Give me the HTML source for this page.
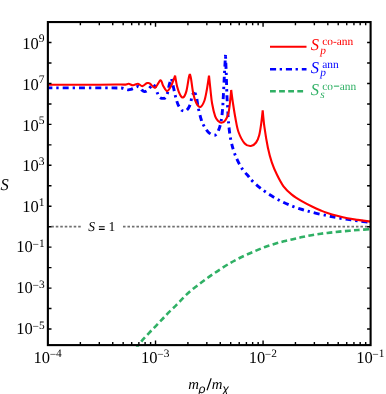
<!DOCTYPE html>
<html><head><meta charset="utf-8"><title>plot</title>
<style>html,body{margin:0;padding:0;background:#fff;}svg{display:block;will-change:transform;}text{font-family:"Liberation Serif",serif;text-rendering:geometricPrecision;}</style></head><body>
<svg width="386" height="394" viewBox="0 0 386 394">
<rect width="386" height="394" fill="#fff"/>
<defs><clipPath id="cp"><rect x="48.00" y="22.10" width="322.60" height="324.60"/></clipPath></defs>
<line x1="51.3" y1="226.60" x2="370.60" y2="226.60" stroke="#707070" stroke-width="1.7" stroke-dasharray="2.55 1.93" fill="none"/>
<rect x="81.6" y="220" width="40.9" height="14" fill="#fff"/>
<path d="M98.9 226.75h5.8M98.9 229.35h5.8" stroke="#000" stroke-width="1.15" fill="none"/>
<text y="231.3" font-size="13.5" fill="#000"><tspan x="88.3" font-style="italic">S</tspan><tspan x="108.6">1</tspan></text>
<g clip-path="url(#cp)" fill="none" stroke-linejoin="miter" stroke-miterlimit="3">
<path d="M136.60 347.20C136.92 346.85 137.47 346.35 138.50 345.10C139.53 343.85 141.02 341.75 142.80 339.70C144.58 337.65 147.00 335.12 149.20 332.80C151.40 330.48 153.78 328.10 156.00 325.80C158.22 323.50 160.28 321.33 162.50 319.00C164.72 316.67 166.97 314.15 169.30 311.80C171.63 309.45 174.18 307.22 176.50 304.90C178.82 302.58 180.92 300.18 183.20 297.90C185.48 295.62 187.80 293.28 190.20 291.20C192.60 289.12 195.08 287.35 197.60 285.40C200.12 283.45 202.72 281.40 205.30 279.50C207.88 277.60 210.43 275.82 213.10 274.00C215.77 272.18 218.45 270.43 221.30 268.60C224.15 266.77 227.45 264.62 230.20 263.00C232.95 261.38 235.03 260.30 237.80 258.90C240.57 257.50 243.75 255.98 246.80 254.60C249.85 253.22 253.07 251.87 256.10 250.60C259.13 249.33 261.97 248.10 265.00 247.00C268.03 245.90 271.18 244.95 274.30 244.00C277.42 243.05 280.58 242.10 283.70 241.30C286.82 240.50 289.92 239.92 293.00 239.20C296.08 238.48 299.12 237.67 302.20 237.00C305.28 236.33 308.38 235.75 311.50 235.20C314.62 234.65 317.78 234.13 320.90 233.70C324.02 233.27 327.10 232.95 330.20 232.60C333.30 232.25 336.28 231.92 339.50 231.60C342.72 231.28 346.38 230.97 349.50 230.70C352.62 230.43 354.68 230.27 358.20 230.00C361.72 229.73 368.53 229.25 370.60 229.10" stroke="#30b065" stroke-width="2.6" stroke-dasharray="5.8 3.4" stroke-dashoffset="1.87"/>
<path d="M48.00 87.90C58.33 87.90 98.33 87.88 110.00 87.90C121.67 87.92 115.88 87.95 118.00 88.00C120.12 88.05 121.37 87.98 122.70 88.20C124.03 88.42 125.03 89.02 126.00 89.30C126.97 89.58 127.67 89.88 128.50 89.90C129.33 89.92 130.15 89.65 131.00 89.40C131.85 89.15 132.77 88.78 133.60 88.40C134.43 88.02 135.25 87.42 136.00 87.10C136.75 86.78 137.43 86.42 138.10 86.50C138.77 86.58 139.35 86.98 140.00 87.60C140.65 88.22 141.25 89.53 142.00 90.20C142.75 90.87 143.67 91.50 144.50 91.60C145.33 91.70 146.10 91.47 147.00 90.80C147.90 90.13 149.07 88.47 149.90 87.60C150.73 86.73 151.40 86.03 152.00 85.60C152.60 85.17 153.25 85.10 153.50 85.00" stroke="#0000ff" stroke-width="2.9" stroke-dasharray="5.9 4.0 2.3 4.0" stroke-dashoffset="1.40"/>
<path d="M153.50 85.00C153.75 85.22 154.33 84.92 155.00 86.30C155.67 87.68 156.78 91.55 157.50 93.30C158.22 95.05 158.72 96.00 159.30 96.80C159.88 97.60 160.38 97.83 161.00 98.10C161.62 98.37 162.33 98.42 163.00 98.40C163.67 98.38 164.40 98.47 165.00 98.00C165.60 97.53 166.13 96.62 166.60 95.60C167.07 94.58 167.32 93.83 167.80 91.90C168.28 89.97 168.88 86.23 169.50 84.00C170.12 81.77 171.17 79.42 171.50 78.50" stroke="#0000ff" stroke-width="2.9" stroke-dasharray="5.9 4.0 2.3 4.0" stroke-dashoffset="1.84"/>
<path d="M171.50 78.50C171.78 79.75 172.53 83.00 173.20 86.00C173.87 89.00 174.73 93.50 175.50 96.50C176.27 99.50 177.05 102.08 177.80 104.00C178.55 105.92 179.27 106.92 180.00 108.00C180.73 109.08 181.13 110.08 182.20 110.50C183.27 110.92 185.05 111.53 186.40 110.50C187.75 109.47 189.37 106.72 190.30 104.30C191.23 101.88 191.30 98.05 192.00 96.00C192.70 93.95 194.08 92.67 194.50 92.00" stroke="#0000ff" stroke-width="2.9" stroke-dasharray="5.9 4.0 2.3 4.0" stroke-dashoffset="9.19"/>
<path d="M194.50 92.00C194.83 92.83 195.90 94.48 196.50 97.00C197.10 99.52 197.32 103.35 198.10 107.10C198.88 110.85 200.17 116.27 201.20 119.50C202.23 122.73 203.00 124.28 204.30 126.50C205.60 128.72 207.18 131.37 209.00 132.80C210.82 134.23 213.52 135.75 215.20 135.10C216.88 134.45 218.07 131.50 219.10 128.90C220.13 126.30 220.82 122.87 221.40 119.50C221.98 116.13 222.27 112.83 222.60 108.70C222.93 104.57 223.10 100.32 223.40 94.70C223.70 89.08 224.05 81.65 224.40 75.00C224.75 68.35 225.32 58.17 225.50 54.80" stroke="#0000ff" stroke-width="2.9" stroke-dasharray="5.9 4.0 2.3 4.0" stroke-dashoffset="8.64"/>
<path d="M225.50 54.80C225.63 58.17 226.07 68.35 226.30 75.00C226.53 81.65 226.67 89.08 226.90 94.70C227.13 100.32 227.45 104.30 227.70 108.70C227.95 113.10 227.98 116.47 228.40 121.10C228.82 125.73 229.38 131.73 230.20 136.50C231.02 141.27 232.10 145.77 233.30 149.70C234.50 153.63 235.85 156.82 237.40 160.10C238.95 163.38 240.70 166.63 242.60 169.40C244.50 172.17 247.17 174.75 248.80 176.70C250.43 178.65 250.42 179.17 252.40 181.10C254.38 183.03 257.58 185.88 260.70 188.30C263.82 190.72 267.63 193.42 271.10 195.60C274.57 197.78 278.05 199.67 281.50 201.40C284.95 203.13 288.35 204.65 291.80 206.00C295.25 207.35 298.75 208.43 302.20 209.50C305.65 210.57 308.42 211.38 312.50 212.40C316.58 213.42 322.60 214.72 326.70 215.60C330.80 216.48 333.63 217.07 337.10 217.70C340.57 218.33 344.05 218.88 347.50 219.40C350.95 219.92 353.95 220.30 357.80 220.80C361.65 221.30 368.47 222.13 370.60 222.40" stroke="#0000ff" stroke-width="2.9" stroke-dasharray="5.9 4.0 2.3 4.0" stroke-dashoffset="8.14"/>
<path d="M48.00 84.70C56.67 84.70 87.85 84.73 100.00 84.70C112.15 84.67 116.65 84.52 120.90 84.50C125.15 84.48 124.20 84.72 125.50 84.60C126.80 84.48 127.45 83.70 128.70 83.80C129.95 83.90 131.45 85.20 133.00 85.20C134.55 85.20 136.45 83.65 138.00 83.80C139.55 83.95 140.88 86.18 142.30 86.10C143.72 86.02 145.53 83.82 146.50 83.30C147.47 82.78 147.52 82.95 148.10 83.00C148.68 83.05 148.83 82.82 150.00 83.60C151.17 84.38 153.35 88.27 155.10 87.70C156.85 87.13 159.17 80.53 160.50 80.20C161.83 79.87 162.02 83.88 163.10 85.70C164.18 87.52 165.70 90.98 167.00 91.10C168.30 91.22 169.82 88.25 170.90 86.40C171.98 84.55 172.80 81.80 173.50 80.00C174.20 78.20 174.83 76.33 175.10 75.60L175.10 75.60C175.43 77.40 176.25 83.17 177.10 86.40C177.95 89.63 179.17 93.18 180.20 95.00C181.23 96.82 182.27 97.95 183.30 97.30C184.33 96.65 185.48 94.38 186.40 91.10C187.32 87.82 188.22 80.45 188.80 77.60C189.38 74.75 189.72 74.60 189.90 74.00L189.90 74.00C190.10 74.85 190.52 75.73 191.10 79.10C191.68 82.47 192.50 90.13 193.40 94.20C194.30 98.27 195.33 101.37 196.50 103.50C197.67 105.63 199.10 107.42 200.40 107.00C201.70 106.58 203.25 103.75 204.30 101.00C205.35 98.25 205.92 94.73 206.70 90.50C207.48 86.27 208.62 78.08 209.00 75.60L209.00 75.60C209.25 78.00 209.98 85.35 210.50 90.00C211.02 94.65 211.32 99.10 212.10 103.50C212.88 107.90 214.17 113.47 215.20 116.40C216.23 119.33 217.27 120.05 218.30 121.10C219.33 122.15 220.23 122.83 221.40 122.70C222.57 122.57 224.13 121.87 225.30 120.30C226.47 118.73 227.62 116.28 228.40 113.30C229.18 110.32 229.53 106.28 230.00 102.40C230.47 98.52 231.00 92.07 231.20 90.00L231.20 90.00C231.52 92.33 232.40 99.33 233.10 104.00C233.80 108.67 234.50 113.33 235.40 118.00C236.30 122.67 236.95 127.75 238.50 132.00C240.05 136.25 242.63 141.17 244.70 143.50C246.77 145.83 249.00 146.17 250.90 146.00C252.80 145.83 254.72 144.30 256.10 142.50C257.48 140.70 258.33 138.48 259.20 135.20C260.07 131.92 260.72 126.93 261.30 122.80C261.88 118.67 262.47 112.47 262.70 110.40L262.70 110.40C262.98 113.15 263.53 120.68 264.40 126.90C265.27 133.12 266.67 141.80 267.90 147.70C269.13 153.60 270.28 157.78 271.80 162.30C273.32 166.82 275.05 170.80 277.00 174.80C278.95 178.80 281.03 183.00 283.50 186.30C285.97 189.60 288.68 192.08 291.80 194.60C294.92 197.12 298.75 199.37 302.20 201.40C305.65 203.43 309.38 205.28 312.50 206.80C315.62 208.32 318.53 209.52 320.90 210.50C323.27 211.48 324.00 211.82 326.70 212.70C329.40 213.58 333.63 214.87 337.10 215.80C340.57 216.73 344.05 217.62 347.50 218.30C350.95 218.98 353.95 219.35 357.80 219.90C361.65 220.45 368.47 221.32 370.60 221.60" stroke="#ff0000" stroke-width="2.1"/>
</g>
<rect x="47.88" y="22.05" width="322.72" height="323.05" fill="none" stroke="#000" stroke-width="2.1"/>
<path d="M80.37 345.10v-3.10M80.37 22.10v3.10M99.31 345.10v-3.10M99.31 22.10v3.10M112.74 345.10v-3.10M112.74 22.10v3.10M123.16 345.10v-3.10M123.16 22.10v3.10M131.68 345.10v-3.10M131.68 22.10v3.10M138.88 345.10v-3.10M138.88 22.10v3.10M145.11 345.10v-3.10M145.11 22.10v3.10M150.61 345.10v-3.10M150.61 22.10v3.10M155.53 345.10v-4.60M155.53 22.10v4.60M187.90 345.10v-3.10M187.90 22.10v3.10M206.84 345.10v-3.10M206.84 22.10v3.10M220.27 345.10v-3.10M220.27 22.10v3.10M230.70 345.10v-3.10M230.70 22.10v3.10M239.21 345.10v-3.10M239.21 22.10v3.10M246.41 345.10v-3.10M246.41 22.10v3.10M252.65 345.10v-3.10M252.65 22.10v3.10M258.15 345.10v-3.10M258.15 22.10v3.10M263.07 345.10v-4.60M263.07 22.10v4.60M295.44 345.10v-3.10M295.44 22.10v3.10M314.37 345.10v-3.10M314.37 22.10v3.10M327.81 345.10v-3.10M327.81 22.10v3.10M338.23 345.10v-3.10M338.23 22.10v3.10M346.74 345.10v-3.10M346.74 22.10v3.10M353.94 345.10v-3.10M353.94 22.10v3.10M360.18 345.10v-3.10M360.18 22.10v3.10M365.68 345.10v-3.10M365.68 22.10v3.10M48.00 329.00h3.50M370.60 329.00h-3.50M48.00 308.54h3.50M370.60 308.54h-3.50M48.00 288.08h3.50M370.60 288.08h-3.50M48.00 267.62h3.50M370.60 267.62h-3.50M48.00 247.16h3.50M370.60 247.16h-3.50M48.00 226.70h3.50M370.60 226.70h-3.50M48.00 206.24h3.50M370.60 206.24h-3.50M48.00 185.78h3.50M370.60 185.78h-3.50M48.00 165.32h3.50M370.60 165.32h-3.50M48.00 144.86h3.50M370.60 144.86h-3.50M48.00 124.40h3.50M370.60 124.40h-3.50M48.00 103.94h3.50M370.60 103.94h-3.50M48.00 83.48h3.50M370.60 83.48h-3.50M48.00 63.02h3.50M370.60 63.02h-3.50M48.00 42.56h3.50M370.60 42.56h-3.50" stroke="#000" stroke-width="1.40" fill="none"/>
<text x="44.60" y="48.66" font-size="16.5" text-anchor="end" fill="#000">10<tspan font-size="11.6" dy="-6.6">9</tspan></text>
<text x="44.60" y="89.58" font-size="16.5" text-anchor="end" fill="#000">10<tspan font-size="11.6" dy="-6.6">7</tspan></text>
<text x="44.60" y="130.50" font-size="16.5" text-anchor="end" fill="#000">10<tspan font-size="11.6" dy="-6.6">5</tspan></text>
<text x="44.60" y="171.42" font-size="16.5" text-anchor="end" fill="#000">10<tspan font-size="11.6" dy="-6.6">3</tspan></text>
<text x="44.60" y="212.34" font-size="16.5" text-anchor="end" fill="#000">10<tspan font-size="11.6" dy="-6.6">1</tspan></text>
<text x="44.60" y="252.46" font-size="16.5" text-anchor="end" fill="#000">10<tspan font-size="11.4" dx="-0.4" dy="-4.70">−</tspan><tspan font-size="11.4" dy="-0.8">1</tspan></text>
<text x="44.60" y="293.38" font-size="16.5" text-anchor="end" fill="#000">10<tspan font-size="11.4" dx="-0.4" dy="-4.70">−</tspan><tspan font-size="11.4" dy="-0.8">3</tspan></text>
<text x="44.60" y="334.30" font-size="16.5" text-anchor="end" fill="#000">10<tspan font-size="11.4" dx="-0.4" dy="-4.70">−</tspan><tspan font-size="11.4" dy="-0.8">5</tspan></text>
<text x="47.70" y="363.15" font-size="16.5" text-anchor="middle" fill="#000">10<tspan font-size="11.4" dx="-0.4" dy="-4.95">−</tspan><tspan font-size="11.4" dy="-0.8">4</tspan></text>
<text x="155.23" y="363.15" font-size="16.5" text-anchor="middle" fill="#000">10<tspan font-size="11.4" dx="-0.4" dy="-4.95">−</tspan><tspan font-size="11.4" dy="-0.8">3</tspan></text>
<text x="262.77" y="363.15" font-size="16.5" text-anchor="middle" fill="#000">10<tspan font-size="11.4" dx="-0.4" dy="-4.95">−</tspan><tspan font-size="11.4" dy="-0.8">2</tspan></text>
<text x="370.30" y="363.15" font-size="16.5" text-anchor="middle" fill="#000">10<tspan font-size="11.4" dx="-0.4" dy="-4.95">−</tspan><tspan font-size="11.4" dy="-0.8">1</tspan></text>
<text x="0.6" y="189.5" font-size="16.5" font-style="italic" fill="#000">S</text>
<text y="389.1" font-size="14.8" font-style="italic" fill="#000"><tspan x="188.2">m</tspan><tspan x="211.8">m</tspan></text>
<text y="392.6" font-size="12.2" font-style="italic" font-family="Liberation Sans" fill="#000" style="font-family:'Liberation Sans',sans-serif"><tspan x="198.6">ρ</tspan><tspan x="222.3">χ</tspan></text>
<path d="M207.0 390.2L211.2 378.2" stroke="#000" stroke-width="1.15" fill="none"/>
<line x1="270" y1="46.8" x2="306.5" y2="46.8" stroke="#ff0000" stroke-width="2.0"/>
<line x1="270" y1="69.2" x2="306.5" y2="69.2" stroke="#0000ff" stroke-width="2.5" stroke-dasharray="6.1 3.6 2.3 3.9"/>
<line x1="270" y1="91.3" x2="306.4" y2="91.3" stroke="#30b065" stroke-width="2.5" stroke-dasharray="5.8 3.3"/>
<text x="310.8" y="50.30" font-size="16.5" font-style="italic" fill="#ff0000">S</text><text x="322.2" y="45.10" font-size="11.4" fill="#ff0000">co-ann</text><text x="320.2" y="53.50" font-size="11.4" font-style="italic" fill="#ff0000">p</text>
<text x="310.8" y="72.90" font-size="16.5" font-style="italic" fill="#0000ff">S</text><text x="322.2" y="67.70" font-size="11.4" fill="#0000ff">ann</text><text x="320.2" y="76.10" font-size="11.4" font-style="italic" fill="#0000ff">p</text>
<text x="310.8" y="95.10" font-size="16.5" font-style="italic" fill="#30b065">S</text><text x="322.2" y="89.90" font-size="11.4" fill="#30b065">co<tspan x="339.8">ann</tspan></text><text x="320.2" y="98.30" font-size="11.4" font-style="italic" fill="#30b065">s</text>
<path d="M333.9 86.15h5.3" stroke="#30b065" stroke-width="1.1" fill="none"/>
</svg></body></html>
